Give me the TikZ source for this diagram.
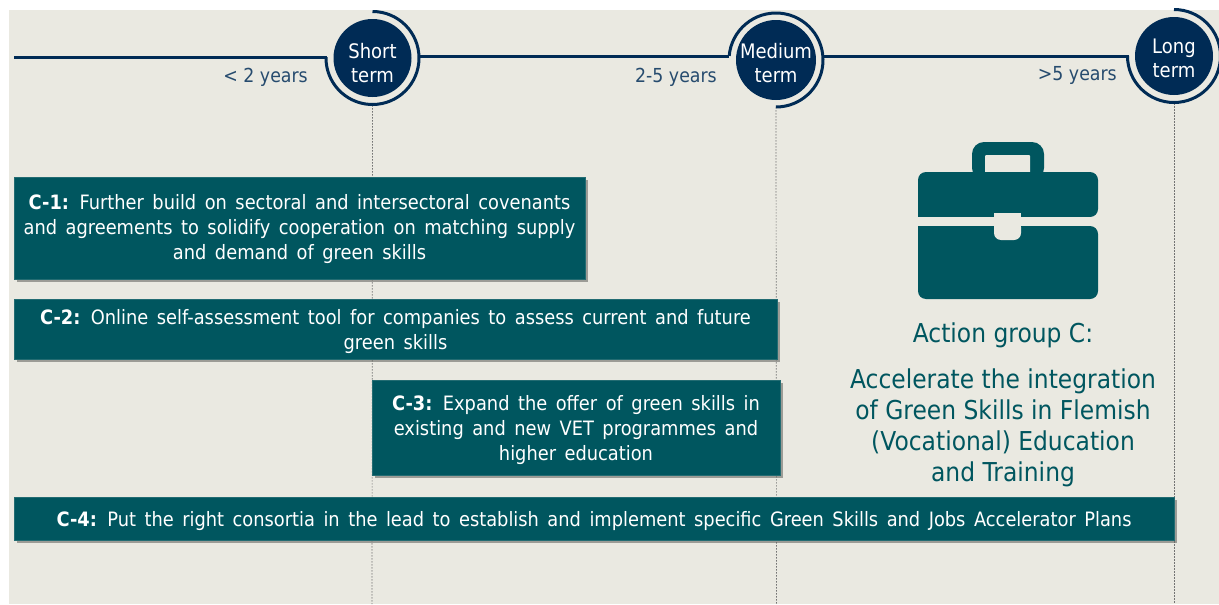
\documentclass[tikz,border=0pt]{standalone}
\usepackage{fontspec}
\setmainfont{DejaVu Sans}[FakeStretch=0.9]
\newfontfamily\boxfont{DejaVu Sans}[FakeStretch=0.9,WordSpace=1.5]
\usetikzlibrary{shadows,calc}
\definecolor{bgc}{HTML}{EAE9E1}
\definecolor{tealc}{HTML}{00565F}
\definecolor{navyc}{HTML}{002B55}
\newcommand{\stackedtext}[2]{\raisebox{#1}[0pt][0pt]{\begin{tabular}{@{}c@{}}#2\end{tabular}}}
\tikzset{
  termnode/.style={circle,fill=navyc,minimum size=78pt,inner sep=0pt,text=white,align=center,font=\fontsize{20}{24}\selectfont},
  actionbox/.style={fill=tealc,draw=tealc!85!bgc,line width=.5pt,text=white,align=center,inner sep=0pt,font=\boxfont\fontsize{19.8}{25}\selectfont,copy shadow={shadow xshift=2.5pt,shadow yshift=-3pt,fill=black!55!bgc,draw=none,opacity=.6}},
  timeline/.style={draw=navyc,line width=3pt},
  guide/.style={draw=black!55,line width=.7pt,dash pattern=on 1.5pt off 1.5pt},
  yearlabel/.style={text=navyc!85!white,font=\fontsize{19.3}{24}\selectfont,inner sep=0pt},
  grouptext/.style={text=tealc,align=center,inner sep=0pt},
}
\begin{document}
\begin{tikzpicture}[x=1pt,y=-1pt]
\useasboundingbox (0,0) rectangle (1219,605);
\fill[bgc] (9,10) rectangle (1219,604);
% circles
\node[termnode] (short) at (372.5,58) {\stackedtext{-13pt}{Short\\term}};
\node[termnode,minimum size=80pt] (medium) at (776,60) {\stackedtext{-11pt}{Medium\\term}};
\node[termnode] (long) at (1174,56) {\stackedtext{-10pt}{Long\\term}};
% guides
\coordinate (sb) at (372,604);
\coordinate (mb) at (776.5,604);
\coordinate (lb) at (1174,604);
\draw[guide] ($(short.south)+(0,8)$) -- (sb);
\draw[guide] ($(medium.south)+(0,7)$) -- (mb);
\draw[guide] ($(long.south)+(0,8)$) -- (lb);
% timeline
\coordinate (t0) at (14,57);
\draw[timeline] (t0) -- ($(short.west)+(-6,-1)$);
\draw[timeline] ($(short.east)+(7,-2)$) -- ($(medium.west)+(-7,-4)$);
\draw[timeline] ($(medium.east)+(7,-4)$) -- ($(long.west)+(-6,0)$);
% arcs
\draw[timeline] (short)+(-90:46.5) arc[start angle=-90,end angle=181,radius=46.5];
\draw[timeline] (medium)+(185:47) arc[start angle=185,end angle=450,radius=47];
\draw[timeline] (long)+(-90:46.5) arc[start angle=-90,end angle=180,radius=46.5];
% year labels
\node[yearlabel,anchor=east] (y1) at (308,77) {< 2 years};
\node[yearlabel,anchor=east] (y2) at (717,77) {2-5 years};
\node[yearlabel,anchor=east] (y3) at (1117,75) {>5 years};
% boxes
\node[actionbox,minimum width=571pt,minimum height=102pt] (c1) at (299.5,228) {\stackedtext{-7pt}{\textbf{C-1:} Further build on sectoral and intersectoral covenants\\and agreements to solidify cooperation on matching supply\\and demand of green skills}};
\node[actionbox,minimum width=763pt,minimum height=60pt] (c2) at (395.5,329) {\stackedtext{-8pt}{\textbf{C-2:} Online self-assessment tool for companies to assess current and future\\green skills}};
\node[actionbox,minimum width=408pt,minimum height=95pt] (c3) at (576,427.5) {\stackedtext{-8pt}{\textbf{C-3:} Expand the offer of green skills in\\existing and new VET programmes and\\higher education}};
\node[actionbox,minimum width=1160pt,minimum height=43pt] (c4) at (594,518.5) {\stackedtext{-8pt}{\textbf{C-4:} Put the right consortia in the lead to establish and implement specific Green Skills and Jobs Accelerator Plans}};
% briefcase
\fill[tealc,rounded corners=12pt] (972,180) -- (972,142) -- (1044,142) -- (1044,180) -- cycle;
\fill[bgc,rounded corners=1pt] (985,155) rectangle (1030,175);
\fill[tealc,rounded corners=8pt] (918,217) -- (918,172) -- (1098,172) -- (1098,217) [sharp corners] -- cycle;
\fill[tealc,rounded corners=8pt] (918,226) -- (918,299) -- (1098,299) -- (1098,226) [sharp corners] -- cycle;
\fill[bgc] (918,217) rectangle (1098,226);
\fill[bgc] (994,213) rectangle (1021,226);
\fill[bgc,rounded corners=7pt] (994,220) -- (994,240) -- (1021,240) -- (1021,220) [sharp corners] -- cycle;
% heading
\node[grouptext,font=\fontsize{26}{31}\selectfont] (g1) at (1003,335) {Action group C:};
\node[grouptext,font=\fontsize{26}{31}\selectfont] (g2) at (1003,426) {\stackedtext{-9pt}{Accelerate the integration\\of Green Skills in Flemish\\(Vocational) Education\\and Training}};
\end{tikzpicture}
\end{document}
